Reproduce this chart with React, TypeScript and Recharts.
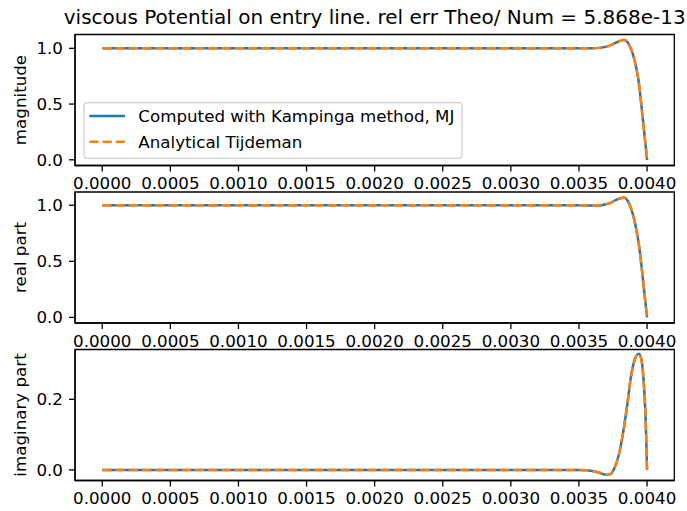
import React from 'react';
import { LineChart, Line, XAxis, YAxis, ReferenceArea } from 'recharts';

// x positions along the entry line
const xs = [0, 0.0005, 0.001, 0.0015, 0.002, 0.0025, 0.003, 0.0035, 0.0036, 0.00365, 0.0037, 0.00373, 0.00376, 0.0038, 0.00383, 0.00386, 0.00388, 0.0039, 0.00392, 0.00394, 0.00396, 0.00398, 0.00399, 0.004];
const magnitude = [1, 1, 1, 1, 1, 1, 1, 1, 1.0, 1.004, 1.015, 1.027, 1.045, 1.066, 1.074, 1.05, 1.0, 0.93, 0.83, 0.69, 0.47, 0.24, 0.12, 0];
const realPart = [1, 1, 1, 1, 1, 1, 1, 1, 0.997, 0.998, 1.01, 1.02, 1.04, 1.06, 1.068, 1.035, 0.98, 0.9, 0.79, 0.65, 0.45, 0.22, 0.11, 0];
const imagPart = [0, 0, 0, 0, 0, 0, 0, 0, -0.003, -0.008, -0.014, -0.012, 0.005, 0.055, 0.12, 0.2, 0.26, 0.3, 0.322, 0.329, 0.31, 0.22, 0.14, 0];

const xTicks = [0, 0.0005, 0.001, 0.0015, 0.002, 0.0025, 0.003, 0.0035, 0.004];
const unitTicks = [0, 0.5, 1.0];
const imagTicks = [0, 0.2];

const TITLE = 'viscous Potential on entry line. rel err Theo/ Num = 5.868e-13';
const NUM_NAME = 'Computed with Kampinga method, MJ';
const THEO_NAME = 'Analytical Tijdeman';

const BLUE = '#1f77b4';
const ORANGE = '#ff7f0e';
const FONT = 'DejaVu Sans, sans-serif';
const FS = 16.7;
const PLOT_H = 131;
const DASH = '9.25 4';
const X_DOMAIN = [-0.0002, 0.0042];

const rows = xs.map((x, i) => ({ x, mag: magnitude[i], re: realPart[i], im: imagPart[i] }));

const tickStyle = { fontSize: FS, fill: '#000', fontFamily: FONT };

function Panel({ top, plotTop, height, dataKey, domain, ticks }: any) {
    const axisH = height - plotTop - PLOT_H;
    return (
        <div style={{ position: 'absolute', left: 0, top }}>
            <LineChart width={687} height={height} data={rows} margin={{ top: plotTop, right: 12.7, left: 0, bottom: 0 }}>
                <XAxis dataKey="x" type="number" domain={X_DOMAIN} ticks={xTicks} allowDataOverflow
                    tickFormatter={(v: number) => v.toFixed(4)} height={axisH} tickSize={6} tickMargin={6}
                    tick={tickStyle} axisLine={{ stroke: '#000', strokeWidth: 1.3 }} tickLine={{ stroke: '#000', strokeWidth: 1.3 }} interval={0} />
                <YAxis type="number" domain={domain} ticks={ticks} allowDataOverflow width={75} tickSize={6} tickMargin={6}
                    tickFormatter={(v: number) => v.toFixed(1)} tick={tickStyle} interval={0}
                    axisLine={{ stroke: '#000', strokeWidth: 1.3 }} tickLine={{ stroke: '#000', strokeWidth: 1.3 }} />
                {/* axes frame */}
                <ReferenceArea x1={X_DOMAIN[0]} x2={X_DOMAIN[1]} y1={domain[0]} y2={domain[1]} fill="none" stroke="#000" strokeWidth={1.3} ifOverflow="visible" />
                <Line type="monotone" dataKey={dataKey} stroke={BLUE} strokeWidth={2.5} dot={false} isAnimationActive={false} />
                <Line type="monotone" dataKey={dataKey} stroke={ORANGE} strokeWidth={2.5} strokeDasharray={DASH} dot={false} isAnimationActive={false} />
            </LineChart>
        </div>
    );
}

export default function App() {
    return (
        <div style={{ position: 'absolute', left: 0, top: 0, width: 687, height: 511, background: '#fff', overflow: 'hidden' }}>
            <Panel top={0} plotTop={34.5} height={200} dataKey="mag" domain={[-0.051, 1.124]} ticks={unitTicks} />
            <Panel top={160} plotTop={32} height={200} dataKey="re" domain={[-0.05, 1.118]} ticks={unitTicks} />
            <Panel top={320} plotTop={29.5} height={191} dataKey="im" domain={[-0.03, 0.341]} ticks={imagTicks} />

            {/* title, axis labels and legend */}
            <svg width={687} height={511} style={{ position: 'absolute', left: 0, top: 0, pointerEvents: 'none' }} fontFamily={FONT}>
                <text x={374.7} y={24.3} fontSize={20} textAnchor="middle" fill="#000">{TITLE}</text>
                <text transform="translate(26,100) rotate(-90)" fontSize={FS} textAnchor="middle" fill="#000">magnitude</text>
                <text transform="translate(26,257.5) rotate(-90)" fontSize={FS} textAnchor="middle" fill="#000">real part</text>
                <text transform="translate(26,415) rotate(-90)" fontSize={FS} textAnchor="middle" fill="#000">imaginary part</text>

                <rect x={84} y={102.7} width={378} height={55.6} rx={3} fill="#fff" fillOpacity={0.8} stroke="#d0d0d0" strokeWidth={1.3} />
                <line x1={89.3} x2={125} y1={116} y2={116} stroke={BLUE} strokeWidth={2.5} />
                <text x={138.3} y={121.8} fontSize={FS} fill="#000">{NUM_NAME}</text>
                <line x1={89.3} x2={125} y1={141.7} y2={141.7} stroke={ORANGE} strokeWidth={2.5} strokeDasharray={DASH} />
                <text x={138.3} y={147.5} fontSize={FS} fill="#000">{THEO_NAME}</text>
            </svg>
        </div>
    );
}
